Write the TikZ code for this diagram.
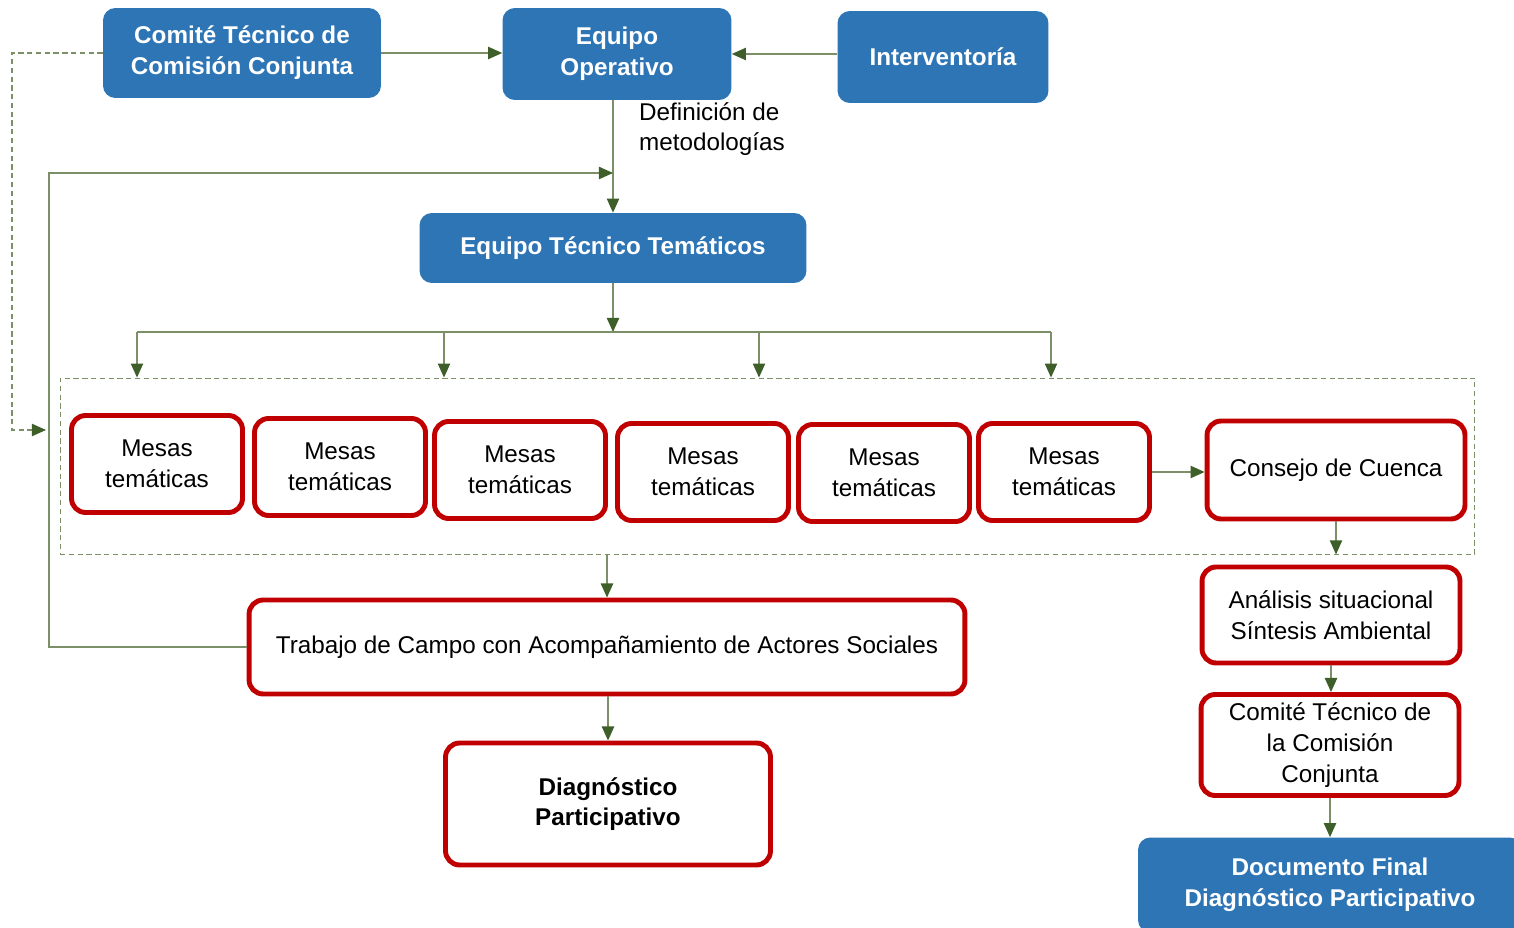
\documentclass[tikz,border=0pt]{standalone}
\usepackage{fontspec}
\setmainfont{Liberation Sans}
\usetikzlibrary{arrows.meta,positioning}
\definecolor{azul}{HTML}{2E75B6}
\definecolor{rojo}{HTML}{C00000}
\definecolor{verde}{HTML}{7C9067}
\definecolor{punta}{HTML}{3E5F2A}

\begin{document}
\begin{tikzpicture}[x=0.02cm,y=-0.02cm,
    every node/.style={font=\fontsize{13.8}{17.5}\selectfont,align=center},
    bluebox/.style={rounded corners=7pt,fill=azul,text=white,font=\fontsize{13.8}{17.5}\selectfont\bfseries},
    redbox/.style={rounded corners=8pt,draw=rojo,line width=2.8pt,fill=white},
    link/.style={-{Triangle[width=7pt,length=8pt,fill=punta,color=punta]},verde,line width=0.8pt},
    plain/.style={verde,line width=0.8pt}]
  \useasboundingbox (0,0) rectangle (1514,928);
  % top row
  \node[bluebox,minimum width=5.56cm,minimum height=1.8cm] (ctcc) at (242,53) {Comité Técnico de\\Comisión Conjunta};
  \node[bluebox,minimum width=4.58cm,minimum height=1.84cm] (eo) at (617,54) {Equipo\\Operativo};
  \node[bluebox,minimum width=4.22cm,minimum height=1.84cm] (intv) at (943,57) {Interventoría};
  \node[anchor=west,align=left] (defmet) at (633,129) {Definición de\\metodologías};
  \node[bluebox,minimum width=7.74cm,minimum height=1.4cm] (ett) at (613,248) {Equipo Técnico Temáticos};
  \draw[link] (ctcc.east) -- (ctcc.east -| eo.west);
  \draw[link] (intv.west |- eo) -- (eo.east);
  \draw[link] (eo.south -| ett) -- (ett.north);
  % mesas
  \node[draw=verde,densely dashed,line width=0.5pt,minimum width=28.3cm,minimum height=3.52cm] (panel) at (767.5,466) {};
  \foreach \n/\px/\py in {1/157/464,2/340/467,3/520/470,4/703/472,5/884/473,6/1064/472}
    \node[redbox,minimum width=3.42cm,minimum height=1.94cm] (m\n) at (\px,\py) {Mesas\\temáticas};
  \node[redbox,minimum width=5.16cm,minimum height=1.96cm] (cons) at (1336,470) {Consejo de Cuenca};
  \coordinate (split) at (613,332);
  \draw[link] (ett.south) -- (split);
  \draw[plain] (137,332) -- (1051,332);
  \foreach \x in {137,444,759,1051}
    \draw[link] (\x,332) -- (\x,332 |- panel.north);
  \draw[link] (m6.east) -- (m6.east -| cons.west);
  % lower part
  \node[redbox,minimum width=14.32cm,minimum height=1.88cm] (trab) at (607,647) {Trabajo de Campo con Acompañamiento de Actores Sociales};
  \node[redbox,minimum width=6.5cm,minimum height=2.44cm,font=\fontsize{13.8}{17.5}\selectfont\bfseries] (diag) at (608,804) {Diagnóstico\\Participativo};
  \node[redbox,minimum width=5.16cm,minimum height=1.92cm] (anal) at (1331,615) {Análisis situacional\\Síntesis Ambiental};
  \node[redbox,minimum width=5.16cm,minimum height=2.02cm] (ctcc2) at (1330,745) {Comité Técnico de\\la Comisión\\Conjunta};
  \node[bluebox,minimum width=7.68cm,minimum height=1.9cm] (doc) at (1330,885) {Documento Final\\Diagnóstico Participativo};
  \draw[link] (trab.north |- panel.south) -- (trab.north);
  \draw[link] (trab.south -| diag) -- (diag.north);
  \draw[link] (cons.south) -- (cons.south |- panel.south);
  \draw[link] (anal.south) -- (anal.south |- ctcc2.north);
  \draw[link] (ctcc2.south) -- (ctcc2.south |- doc.north);
  % feedback
  \coordinate (fb) at (613,173);
  \coordinate (dashend) at (46,430);
  \draw[link] (trab.west) -- (49,647) |- (fb);
  \draw[link,densely dashed,line width=0.6pt] (ctcc.west) -- (12,53) |- (dashend);
\end{tikzpicture}
\end{document}
